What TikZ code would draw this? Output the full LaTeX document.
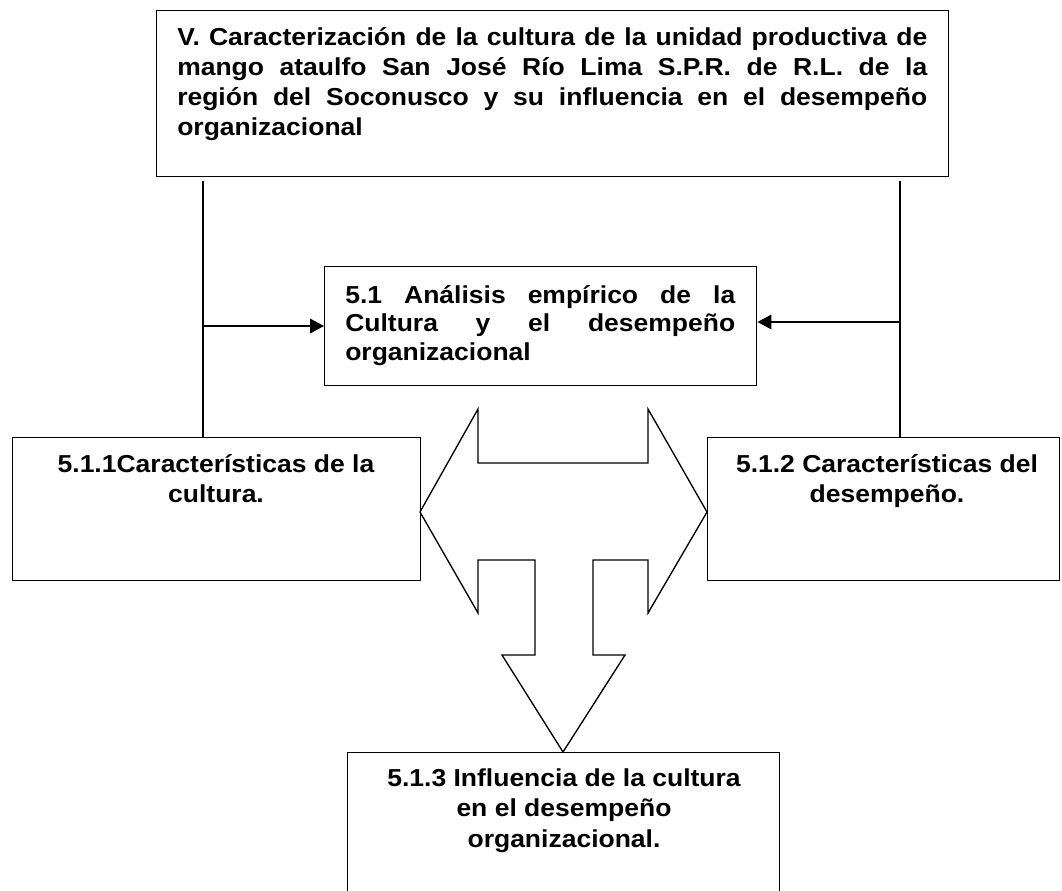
\documentclass[tikz,border=0pt]{standalone}
\usepackage{fontspec}
\newfontfamily\dfont{Liberation Sans}[FakeStretch=1.08]
\usetikzlibrary{arrows.meta}
\begin{document}
\frenchspacing
\begin{tikzpicture}[x=0.75pt,y=-0.75pt,
  box/.style={draw, line width=1.1pt, inner sep=0pt, anchor=north west},
  txt/.style={inner sep=0pt, font=\dfont\bfseries\fontsize{18.4}{22.5}\selectfont},
  conn/.style={line width=0.9pt},
  arr/.style={line width=1pt, -{Triangle[length=10.5pt,width=11pt]}},
  bigarrow/.style={line width=1pt, line join=miter}]
\clip (0,0) rectangle (1062,890);
\fill[white] (0,0) rectangle (1062,890);
% boxes
\node[box, minimum width=594pt, minimum height=124.5pt] (top) at (156,10) {};
\node[box, minimum width=324pt, minimum height=89.25pt] (mid) at (324,266) {};
\node[box, minimum width=306pt, minimum height=107.25pt] (lb) at (12,437) {};
\node[box, minimum width=264pt, minimum height=107.25pt] (rb) at (707,437) {};
\node[box, minimum width=324pt, minimum height=150pt] (bb) at (347,752) {};
% texts
\node[txt, anchor=north west, align=left] (toptxt) at (177,21)
 {\rule{0pt}{18pt}\makebox[562.5pt][s]{V. Caracterización de la cultura de la unidad productiva de}\\
  \makebox[562.5pt][s]{mango ataulfo San José Río Lima S.P.R. de R.L. de la}\\
  \makebox[562.5pt][s]{región del Soconusco y su influencia en el desempeño}\\
  organizacional};
\node[txt, font=\dfont\bfseries\fontsize{18.4}{21.4}\selectfont, anchor=north west, align=left] (midtxt) at (345,279)
 {\rule{0pt}{18pt}\makebox[292.5pt][s]{5.1 Análisis empírico de la}\\
  \makebox[292.5pt][s]{Cultura y el desempeño}\\
  organizacional};
\node[txt, font=\dfont\bfseries\fontsize{18.4}{23}\selectfont, anchor=north, align=center] (lbtxt) at (216,448)
 {\rule{0pt}{18pt}5.1.1Características de la\\cultura.};
\node[txt, font=\dfont\bfseries\fontsize{18.4}{22.6}\selectfont, anchor=north, align=center] (rbtxt) at (887,448)
 {\rule{0pt}{18pt}5.1.2 Características del\\desempeño.};
\node[txt, font=\dfont\bfseries\fontsize{18.4}{23}\selectfont, anchor=north, align=center] (bbtxt) at (564,762)
 {\rule{0pt}{18pt}5.1.3 Influencia de la cultura\\en el desempeño\\organizacional.};
% big three-way arrow
\draw[bigarrow] (420,512) -- (478,409) -- (478,463) -- (648,463) -- (648,409) -- (707,512)
  -- (648,613) -- (648,560) -- (593,560) -- (593,655) -- (625,655) -- (563,752)
  -- (502,655) -- (535,655) -- (535,560) -- (478,560) -- (478,613) -- cycle;
% connectors
\coordinate (lt0) at (203,181);
\coordinate (rt0) at (900,181);
\draw[conn] (lt0) -- (lt0 |- lb.north);
\draw[conn] (rt0) -- (rt0 |- rb.north);
\coordinate (la) at (203,326);
\coordinate (ra) at (900,322);
\draw[arr] (la) -- (la -| mid.west);
\draw[arr] (ra) -- (ra -| mid.east);
\end{tikzpicture}
\end{document}
